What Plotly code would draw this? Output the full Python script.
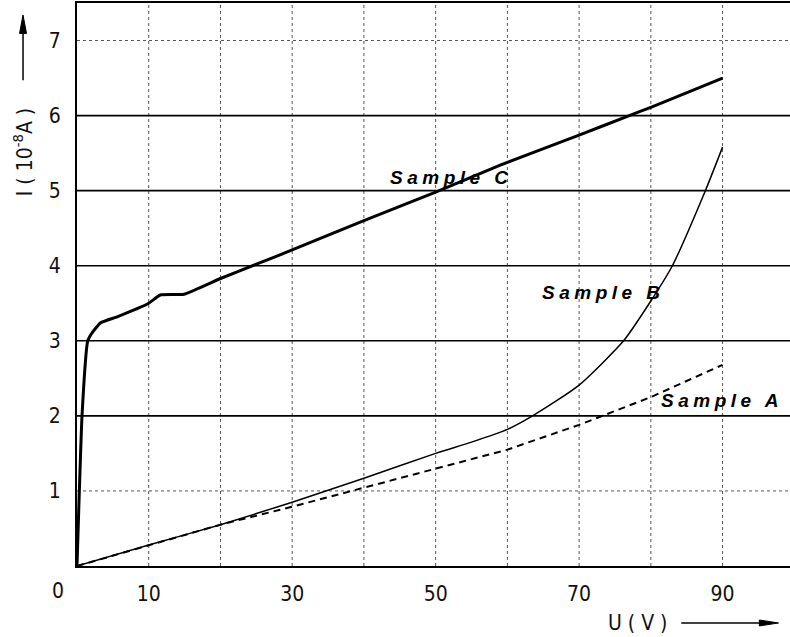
import plotly.graph_objects as go

# ---- data ----
U_C = [0, 0.7, 1.5, 2.2, 3.3, 5.6, 10, 11.6, 14.9, 20, 25, 30, 40, 50, 59, 70, 77, 80, 90]
I_C = [0, 2.0, 3.0, 3.12, 3.24, 3.32, 3.5, 3.61, 3.62, 3.83, 4.02, 4.21, 4.6, 4.98, 5.34, 5.74, 6.0, 6.11, 6.5]

U_B = [0, 10, 20, 30, 40, 50, 55, 60, 63.5, 70, 76.2, 80, 83.0, 87.6, 90]
I_B = [0, 0.28, 0.55, 0.85, 1.17, 1.50, 1.65, 1.82, 2.0, 2.41, 3.0, 3.53, 4.0, 5.0, 5.58]

U_A = [0, 10, 20, 30, 40, 50, 60, 70, 80, 90]
I_A = [0, 0.28, 0.55, 0.79, 1.04, 1.29, 1.55, 1.88, 2.25, 2.68]

X_TICKS = [10, 30, 50, 70, 90]
Y_TICKS = [1, 2, 3, 4, 5, 6, 7]
X_GRID = [10, 20, 30, 40, 50, 60, 70, 80, 90]
Y_GRID_SOLID = [2, 3, 4, 5, 6]
Y_GRID_DOTTED = [1, 7]
X_RANGE = [0, 99.4]
Y_RANGE = [0, 7.5]

LABELS = [("Sample C", 43.4, 5.17), ("Sample B", 64.6, 3.65), ("Sample A", 81.1, 2.21)]

TICK_FONT = dict(family="Liberation Sans Narrow, DejaVu Sans Condensed, Liberation Sans, sans-serif",
                 size=21, color="#111")

fig = go.Figure()
fig.add_trace(go.Scatter(x=U_A, y=I_A, mode="lines", line=dict(color="black", width=2, dash="7px,5px"),
                         showlegend=False, hoverinfo="skip"))
fig.add_trace(go.Scatter(x=U_B, y=I_B, mode="lines", line=dict(color="black", width=1.5, shape="spline", smoothing=0.6),
                         showlegend=False, hoverinfo="skip"))
fig.add_trace(go.Scatter(x=U_C, y=I_C, mode="lines", line=dict(color="black", width=3, shape="spline", smoothing=0.4),
                         showlegend=False, hoverinfo="skip"))

shapes = []
for gx in X_GRID:
    shapes.append(dict(type="line", xref="x", yref="y", x0=gx, x1=gx, y0=Y_RANGE[0], y1=Y_RANGE[1],
                       line=dict(color="#555", width=1, dash="dot"), layer="below"))
for gy in Y_GRID_DOTTED:
    shapes.append(dict(type="line", xref="x", yref="y", x0=X_RANGE[0], x1=X_RANGE[1], y0=gy, y1=gy,
                       line=dict(color="#555", width=1, dash="dot"), layer="below"))
for gy in Y_GRID_SOLID:
    shapes.append(dict(type="line", xref="x", yref="y", x0=X_RANGE[0], x1=X_RANGE[1], y0=gy, y1=gy,
                       line=dict(color="black", width=1.6), layer="below"))

# axis arrows (paper coordinates, decoration)
shapes.append(dict(type="line", xref="paper", yref="paper", x0=-0.0757, x1=-0.0757, y0=0.863, y1=0.955,
                   line=dict(color="black", width=1.5)))
shapes.append(dict(type="path", xref="paper", yref="paper",
                   path="M -0.0757,0.9787 L -0.0806,0.946 L -0.0708,0.946 Z",
                   fillcolor="black", line=dict(color="black", width=1)))
shapes.append(dict(type="line", xref="paper", yref="paper", x0=0.8475, x1=0.965, y0=-0.1012, y1=-0.1012,
                   line=dict(color="black", width=1.5)))
shapes.append(dict(type="path", xref="paper", yref="paper",
                   path="M 0.9839,-0.1012 L 0.957,-0.0959 L 0.957,-0.1065 Z",
                   fillcolor="black", line=dict(color="black", width=1)))

annotations = []
for txt, lx, ly in LABELS:
    annotations.append(dict(text=txt, x=lx, y=ly, xref="x", yref="y", xanchor="left", yanchor="middle",
                            align="left", showarrow=False,
                            font=dict(family="Liberation Sans, Arial, sans-serif", size=19, color="black",
                                      weight="bold", style="italic")))
# "0" corner label
annotations.append(dict(text="0", x=-0.0273, y=-0.045, xref="paper", yref="paper", xanchor="center",
                        yanchor="middle", showarrow=False, font=TICK_FONT))
# axis titles
annotations.append(dict(text="I ( 10<sup>-8</sup>A )", x=-0.0757, y=0.735, xref="paper", yref="paper",
                        xanchor="center", yanchor="middle", textangle=-90, showarrow=False, font=TICK_FONT))
annotations.append(dict(text="U ( V )", x=0.7875, y=-0.1012, xref="paper", yref="paper",
                        xanchor="center", yanchor="middle", showarrow=False, font=TICK_FONT))

fig.update_layout(
    width=790, height=637,
    margin=dict(l=77, r=0, t=3, b=71),
    paper_bgcolor="white", plot_bgcolor="white",
    shapes=shapes, annotations=annotations,
    xaxis=dict(range=X_RANGE, tickvals=X_TICKS, ticktext=[str(v) for v in X_TICKS], showgrid=False,
               zeroline=False, showline=True, linecolor="black", linewidth=2, mirror=True, ticks="",
               tickfont=TICK_FONT, ticklabelstandoff=8),
    yaxis=dict(range=Y_RANGE, tickvals=Y_TICKS, ticktext=[str(v) for v in Y_TICKS], showgrid=False,
               zeroline=False, showline=True, linecolor="black", linewidth=2, mirror=False, ticks="",
               tickfont=TICK_FONT, ticklabelstandoff=10),
)

post = """
document.body.style.margin = '0';
document.body.style.overflow = 'hidden';
var gd = document.getElementById('{plot_id}');
gd.querySelectorAll('.annotation-text').forEach(function(t){
  if (t.textContent.indexOf('Sample') === 0) { t.style.letterSpacing = '4.5px'; }
});
"""
fig.write_html("out.html", post_script=post, config={"displayModeBar": False, "staticPlot": True})
